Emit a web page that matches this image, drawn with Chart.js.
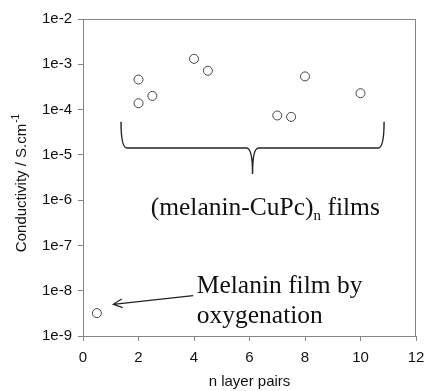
<!DOCTYPE html>
<html lang="en">
<head>
    <meta charset="UTF-8">
    <title>Conductivity vs n layer pairs</title>
    <script src="https://cdn.jsdelivr.net/npm/chart.js"></script>
    <style>
        body { margin: 0; background: #fff; }
        #wrap { width: 427px; height: 391px; }
    </style>
</head>
<body>
    <div id="wrap"><canvas id="condChart" width="427" height="391"></canvas></div>
    <script>
        // n layer pairs and conductivity (S/cm)
        const layerPairs = [0.5, 2, 2, 2.5, 4, 4.5, 7, 7.5, 8, 10];
        const conductivity = [3.2e-9, 4.6e-4, 1.38e-4, 2.0e-4, 1.32e-3, 7.2e-4, 7.4e-5, 6.9e-5, 5.4e-4, 2.3e-4];
        const yTickValues = [1e-9, 1e-8, 1e-7, 1e-6, 1e-5, 1e-4, 1e-3, 1e-2];
        const yTickLabels = ["1e-9", "1e-8", "1e-7", "1e-6", "1e-5", "1e-4", "1e-3", "1e-2"];

        const points = layerPairs.map((x, i) => ({ x: x, y: conductivity[i] }));
        const serif = "'Liberation Serif', 'Times New Roman', serif";
        const sans = "'Liberation Sans', Arial, sans-serif";

        // frame, y title, brace and text notes (notes placed in data coordinates)
        const notesPlugin = {
            id: "notes",
            afterDatasetsDraw(chart) {
                const { ctx, chartArea: a, scales: { x, y } } = chart;
                const px = v => x.getPixelForValue(v);
                const py = e => y.getPixelForValue(Math.pow(10, e));
                ctx.save();

                // box around plot
                ctx.strokeStyle = "#858585";
                ctx.lineWidth = 1;
                ctx.strokeRect(a.left + 0.5, a.top + 0.5, a.right - a.left - 1, a.bottom - a.top);

                // y axis title with superscript
                ctx.save();
                ctx.translate(26, (a.top + a.bottom) / 2 + 6);
                ctx.rotate(-Math.PI / 2);
                ctx.fillStyle = "#111";
                ctx.textBaseline = "alphabetic";
                const main = "Conductivity / S.cm";
                ctx.font = "15px " + sans;
                const wMain = ctx.measureText(main).width;
                ctx.font = "10px " + sans;
                const wSup = ctx.measureText("-1").width;
                let sx = -(wMain + wSup) / 2;
                ctx.font = "15px " + sans;
                ctx.fillText(main, sx, 0);
                ctx.font = "10px " + sans;
                ctx.fillText("-1", sx + wMain + 1, -7);
                ctx.restore();

                // curly brace under the CuPc points
                const x0 = px(1.37), x1 = px(10.85), xm = px(6.11);
                const yt = py(-4.27), yh = py(-4.85), yb = py(-5.42);
                ctx.strokeStyle = "#222";
                ctx.lineWidth = 1.4;
                ctx.beginPath();
                ctx.moveTo(x0, yt);
                ctx.quadraticCurveTo(x0, yh, x0 + 6, yh);
                ctx.lineTo(xm - 6, yh);
                ctx.quadraticCurveTo(xm, yh, xm, yb);
                ctx.quadraticCurveTo(xm, yh, xm + 6, yh);
                ctx.lineTo(x1 - 6, yh);
                ctx.quadraticCurveTo(x1, yh, x1, yt);
                ctx.stroke();

                // (melanin-CuPc)n films
                ctx.fillStyle = "#111";
                ctx.textBaseline = "alphabetic";
                ctx.textAlign = "left";
                ctx.font = "25.5px " + serif;
                let tx = px(2.44);
                const ty = py(-6.33);
                ctx.fillText("(melanin-CuPc)", tx, ty);
                tx += ctx.measureText("(melanin-CuPc)").width;
                ctx.font = "15px " + serif;
                ctx.fillText("n", tx, ty + 5);
                tx += ctx.measureText("n").width;
                ctx.font = "25.5px " + serif;
                ctx.fillText(" films", tx, ty);

                // Melanin film note
                ctx.fillText("Melanin film by", px(4.1), py(-8.05));
                ctx.fillText("oxygenation", px(4.1), py(-8.71));

                // arrow
                const ax0 = px(3.97), ay0 = py(-8.11), ax1 = px(1.09), ay1 = py(-8.30);
                ctx.lineWidth = 1.2;
                ctx.beginPath();
                ctx.moveTo(ax0, ay0);
                ctx.lineTo(ax1, ay1);
                const ang = Math.atan2(ay0 - ay1, ax0 - ax1);
                ctx.moveTo(ax1 + 10 * Math.cos(ang - 0.45), ay1 + 10 * Math.sin(ang - 0.45));
                ctx.lineTo(ax1, ay1);
                ctx.lineTo(ax1 + 10 * Math.cos(ang + 0.45), ay1 + 10 * Math.sin(ang + 0.45));
                ctx.stroke();
                ctx.restore();
            }
        };

        const tickFont = { family: sans, size: 15 };

        new Chart(document.getElementById("condChart"), {
            type: "scatter",
            data: {
                datasets: [{
                    data: points,
                    pointRadius: 4.5,
                    pointHoverRadius: 4.5,
                    pointBorderColor: "#444",
                    pointBorderWidth: 1,
                    pointBackgroundColor: "rgba(255,255,255,0)"
                }]
            },
            options: {
                responsive: false,
                animation: false,
                layout: { padding: { left: 0, right: 11, top: 19, bottom: 0 } },
                plugins: { legend: { display: false }, tooltip: { enabled: false } },
                scales: {
                    x: {
                        type: "linear",
                        min: 0,
                        max: 12,
                        ticks: { stepSize: 2, color: "#111", font: tickFont, padding: 8 },
                        grid: { drawOnChartArea: false, tickLength: 5, color: "#858585" },
                        border: { color: "#858585" },
                        title: { display: true, text: "n layer pairs", color: "#111", font: tickFont, padding: { top: 4, bottom: 0 } },
                        afterFit: s => { s.height = 55; s.paddingRight = 0; s.paddingLeft = 0; }
                    },
                    y: {
                        type: "logarithmic",
                        min: 1e-9,
                        max: 1e-2,
                        afterBuildTicks: s => { s.ticks = yTickValues.map(v => ({ value: v })); },
                        ticks: {
                            color: "#111",
                            font: tickFont,
                            padding: 6,
                            callback: v => yTickLabels[yTickValues.findIndex(t => Math.abs(Math.log10(t) - Math.log10(v)) < 1e-6)]
                        },
                        grid: { drawOnChartArea: false, tickLength: 5, color: "#858585" },
                        border: { color: "#858585" },
                        title: { display: false },
                        afterFit: s => { s.width = 83; s.paddingTop = 0; s.paddingBottom = 0; }
                    }
                }
            },
            plugins: [notesPlugin]
        });
    </script>
</body>
</html>
